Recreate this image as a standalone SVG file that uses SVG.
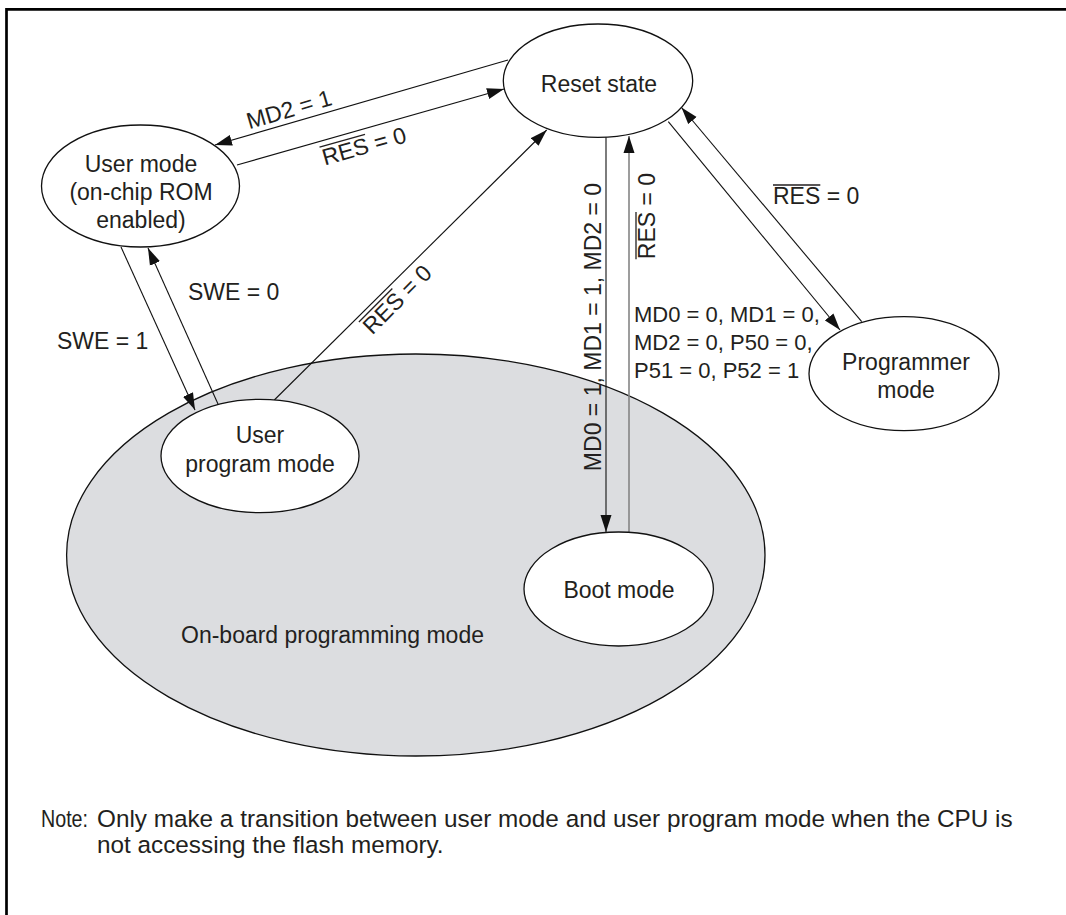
<svg xmlns="http://www.w3.org/2000/svg" width="1066" height="915" viewBox="0 0 1066 915">
<defs>
<marker id="ah" markerUnits="userSpaceOnUse" markerWidth="17" markerHeight="12" refX="17" refY="6" orient="auto">
<path d="M0,0.5 L17,6 L0,11.5 z" fill="#111"/>
</marker>
<style>
.t{font-family:"Liberation Sans",Arial,Helvetica,sans-serif;font-size:23px;fill:#231f20}
.c{text-anchor:middle}
.s{font-size:22px}
.n{fill:#fff;stroke:#111;stroke-width:1.3}
.e{stroke:#111;stroke-width:1.1;fill:none;marker-end:url(#ah)}
.g{stroke:#858585;stroke-width:1.6;fill:none;marker-end:url(#ah)}
.ov{stroke:#231f20;stroke-width:1.3}
.nt{font-size:24.3px}
</style>
</defs>
<rect width="1066" height="915" fill="#fff"/>
<path d="M6.5,915 V9.3 H1066" fill="none" stroke="#000" stroke-width="2.7"/>

<g id="onboard">
<ellipse cx="415.8" cy="555" rx="349.2" ry="201" fill="#dcdde0" stroke="#111" stroke-width="1.3"/>
<text class="t c" x="332.5" y="643">On-board programming mode</text>
</g>

<g id="connectors">
<line class="e" x1="508" y1="60" x2="215" y2="145"/>
<line class="e" x1="237" y1="165" x2="504" y2="89"/>
<line class="e" x1="121" y1="247" x2="195" y2="410"/>
<line class="e" x1="218" y1="404" x2="148" y2="248"/>
<line class="e" x1="274.3" y1="400" x2="546.7" y2="130"/>
<line class="e" x1="606" y1="137.3" x2="606" y2="532"/>
<line class="g" x1="629" y1="532.5" x2="629" y2="136"/>
<line class="e" x1="668.3" y1="121.7" x2="840" y2="330"/>
<line class="e" x1="861.7" y1="321.7" x2="681.5" y2="107.5"/>

<g transform="translate(289,109) rotate(-16.4)"><text class="t c" y="8.3">MD2 = 1</text></g>
<g transform="translate(364,145.7) rotate(-15.9)"><text class="t c" y="8.3">RES = 0</text><line class="ov" x1="-43.2" y1="-10.7" x2="4.1" y2="-10.7"/></g>
<g transform="translate(397,299) rotate(-45)"><text class="t c" y="8.3">RES = 0</text><line class="ov" x1="-43.2" y1="-10.7" x2="4.1" y2="-10.7"/></g>
<text class="t" x="188" y="300">SWE = 0</text>
<text class="t" x="57" y="349">SWE = 1</text>
<g transform="translate(601,327) rotate(-90)"><text class="t c" y="0">MD0 = 1, MD1 = 1, MD2 = 0</text></g>
<g transform="translate(655,216) rotate(-90)"><text class="t c" y="0">RES = 0</text><line class="ov" x1="-43.2" y1="-19" x2="4.1" y2="-19"/></g>
<text class="t s" x="634" y="321.7">MD0 = 0, MD1 = 0,</text>
<text class="t s" x="634" y="350">MD2 = 0, P50 = 0,</text>
<text class="t s" x="634" y="378">P51 = 0, P52 = 1</text>
<text class="t" x="773" y="204">RES = 0</text>
<line class="ov" x1="773" y1="185" x2="820.3" y2="185"/>
</g>

<g id="reset">
<ellipse class="n" cx="598" cy="80.7" rx="94.7" ry="56.7"/>
<text class="t c" x="599" y="91.7">Reset state</text>
</g>
<g id="usermode">
<ellipse class="n" cx="140.5" cy="186" rx="99" ry="61"/>
<text class="t c" x="141" y="172">User mode</text>
<text class="t c" x="141" y="200">(on-chip ROM</text>
<text class="t c" x="141" y="228">enabled)</text>
</g>
<g id="userprogram">
<ellipse class="n" cx="260" cy="456" rx="99" ry="56.7"/>
<text class="t c" x="260" y="443.3">User</text>
<text class="t c" x="260" y="471.7">program mode</text>
</g>
<g id="boot">
<ellipse class="n" cx="618.7" cy="589" rx="94.7" ry="57"/>
<text class="t c" x="619" y="598">Boot mode</text>
</g>
<g id="programmer">
<ellipse class="n" cx="904" cy="373.7" rx="95" ry="57"/>
<text class="t c" x="906" y="370">Programmer</text>
<text class="t c" x="906" y="398">mode</text>
</g>

<g id="note">
<text class="t nt" x="41" y="827" textLength="47" lengthAdjust="spacingAndGlyphs">Note:</text>
<text class="t nt" x="97" y="827">Only make a transition between user mode and user program mode when the CPU is</text>
<text class="t nt" x="97" y="853">not accessing the flash memory.</text>
</g>
</svg>
